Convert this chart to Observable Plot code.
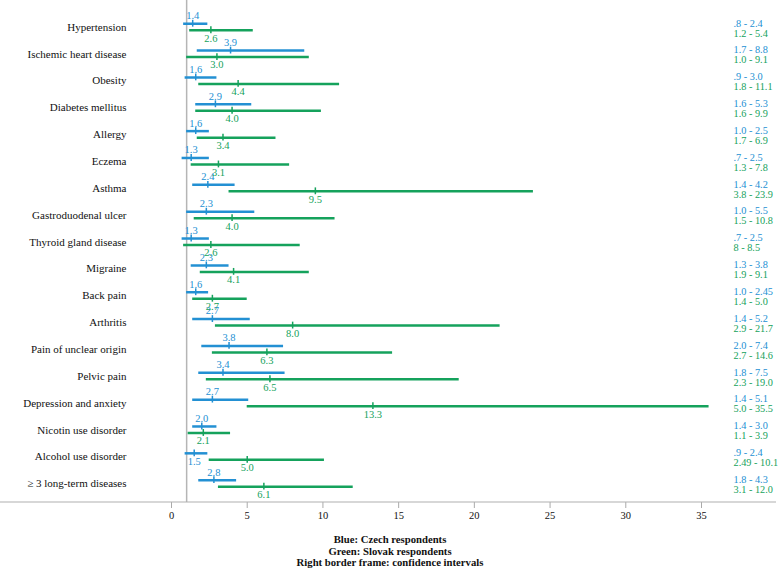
<!DOCTYPE html>
<html>
<head>
<meta charset="utf-8">
<script src="https://cdn.jsdelivr.net/npm/d3@7"></script>
<script src="https://cdn.jsdelivr.net/npm/@observablehq/plot@0.6"></script>
<style>
  html, body { margin: 0; padding: 0; background: #fff; }
  #chart svg { display: block; }
  #caption {
    font-family: "Liberation Serif", "Times New Roman", serif;
    font-weight: bold; font-size: 10.7px; line-height: 11.5px;
    text-align: center; color: #111; margin-top: 4px;
  }
</style>
</head>
<body>
<div id="chart"></div>
<div id="caption">Blue: Czech respondents<br>Green: Slovak respondents<br>Right border frame: confidence intervals</div>
<script>
const categories = [
  "Hypertension", "Ischemic heart disease", "Obesity", "Diabetes mellitus", "Allergy",
  "Eczema", "Asthma", "Gastroduodenal ulcer", "Thyroid gland disease", "Migraine",
  "Back pain", "Arthritis", "Pain of unclear origin", "Pelvic pain",
  "Depression and anxiety", "Nicotin use disorder", "Alcohol use disorder", "≥ 3 long-term diseases"
];
// Czech respondents
const czEst = [1.4, 3.9, 1.6, 2.9, 1.6, 1.3, 2.4, 2.3, 1.3, 2.3, 1.6, 2.7, 3.8, 3.4, 2.7, 2.0, 1.5, 2.8];
const czLo  = [0.8, 1.7, 0.9, 1.6, 1.0, 0.7, 1.4, 1.0, 0.7, 1.3, 1.0, 1.4, 2.0, 1.8, 1.4, 1.4, 0.9, 1.8];
const czHi  = [2.4, 8.8, 3.0, 5.3, 2.5, 2.5, 4.2, 5.5, 2.5, 3.8, 2.45, 5.2, 7.4, 7.5, 5.1, 3.0, 2.4, 4.3];
const czRangeText = [".8 - 2.4", "1.7 - 8.8", ".9 - 3.0", "1.6 - 5.3", "1.0 - 2.5", ".7 - 2.5",
  "1.4 - 4.2", "1.0 - 5.5", ".7 - 2.5", "1.3 - 3.8", "1.0 - 2.45", "1.4 - 5.2", "2.0 - 7.4",
  "1.8 - 7.5", "1.4 - 5.1", "1.4 - 3.0", ".9 - 2.4", "1.8 - 4.3"];
// Slovak respondents
const skEst = [2.6, 3.0, 4.4, 4.0, 3.4, 3.1, 9.5, 4.0, 2.6, 4.1, 2.7, 8.0, 6.3, 6.5, 13.3, 2.1, 5.0, 6.1];
const skLo  = [1.2, 1.0, 1.8, 1.6, 1.7, 1.3, 3.8, 1.5, 0.8, 1.9, 1.4, 2.9, 2.7, 2.3, 5.0, 1.1, 2.49, 3.1];
const skHi  = [5.4, 9.1, 11.1, 9.9, 6.9, 7.8, 23.9, 10.8, 8.5, 9.1, 5.0, 21.7, 14.6, 19.0, 35.5, 3.9, 10.1, 12.0];
const skRangeText = ["1.2 - 5.4", "1.0 - 9.1", "1.8 - 11.1", "1.6 - 9.9", "1.7 - 6.9", "1.3 - 7.8",
  "3.8 - 23.9", "1.5 - 10.8", "8 - 8.5", "1.9 - 9.1", "1.4 - 5.0", "2.9 - 21.7", "2.7 - 14.6",
  "2.3 - 19.0", "5.0 - 35.5", "1.1 - 3.9", "2.49 - 10.1", "3.1 - 12.0"];
const czLabelBelow = ["Alcohol use disorder"];
const xTicks = [0, 5, 10, 15, 20, 25, 30, 35];

const rows = categories.map((cat, i) => ({
  cat, czEst: czEst[i], czLo: czLo[i], czHi: czHi[i], czText: czRangeText[i],
  skEst: skEst[i], skLo: skLo[i], skHi: skHi[i], skText: skRangeText[i]
}));

const blue = "#2390d3";
const green = "#15a25c";
const H = 530, MB = 28;

const chart = Plot.plot({
  width: 780,
  height: H,
  marginLeft: 171,
  marginRight: 79,
  marginTop: 0,
  marginBottom: MB,
  style: { fontFamily: "'Liberation Serif', 'Times New Roman', serif", fontSize: "10px", color: "#111", background: "#fff" },
  x: { domain: [0, 35], label: null },
  y: { type: "band", domain: categories, range: [13.3, 496.6], padding: 0, round: false, label: null },
  marks: [
    Plot.ruleX([1], { stroke: "#b5b5b5", strokeWidth: 1.5 }),
    Plot.ruleY(rows, { y: "cat", x1: "czLo", x2: "czHi", stroke: blue, strokeWidth: 2.5, dy: -3.5 }),
    Plot.ruleY(rows, { y: "cat", x1: "skLo", x2: "skHi", stroke: green, strokeWidth: 2.5, dy: 3 }),
    Plot.tickX(rows, { y: "cat", x: "czEst", stroke: blue, strokeWidth: 1.5, insetTop: 10, insetBottom: 10, dy: -3.5 }),
    Plot.tickX(rows, { y: "cat", x: "skEst", stroke: green, strokeWidth: 1.5, insetTop: 10, insetBottom: 10, dy: 3 }),
    Plot.text(rows.filter(d => !czLabelBelow.includes(d.cat)), { y: "cat", x: "czEst", text: d => d.czEst.toFixed(1), fill: blue, fontSize: 10.5, dy: -11.5 }),
    Plot.text(rows.filter(d => czLabelBelow.includes(d.cat)), { y: "cat", x: "czEst", text: d => d.czEst.toFixed(1), fill: blue, fontSize: 10.5, dy: 5 }),
    Plot.text(rows, { y: "cat", x: "skEst", text: d => d.skEst.toFixed(1), fill: green, fontSize: 10.5, dy: 11 }),
    Plot.text(rows, { y: "cat", text: "czText", frameAnchor: "right", textAnchor: "start", dx: 32, dy: -4, fill: blue, fontSize: 10.3 }),
    Plot.text(rows, { y: "cat", text: "skText", frameAnchor: "right", textAnchor: "start", dx: 32, dy: 6, fill: green, fontSize: 10.3 }),
    Plot.axisY({ tickSize: 0, tickPadding: 45, label: null, fill: "#111", fontSize: 11 }),
    Plot.axisX({ ticks: xTicks, tickSize: 6, tickPadding: 3, stroke: "#aaa", label: null, fill: "#111", fontSize: 10.5 })
  ]
});

d3.select(chart).append("line")
  .attr("x1", 0).attr("x2", 776)
  .attr("y1", H - MB).attr("y2", H - MB)
  .attr("stroke", "#b0b0b0").attr("stroke-width", 1.2);

document.getElementById("chart").appendChild(chart);
</script>
</body>
</html>
